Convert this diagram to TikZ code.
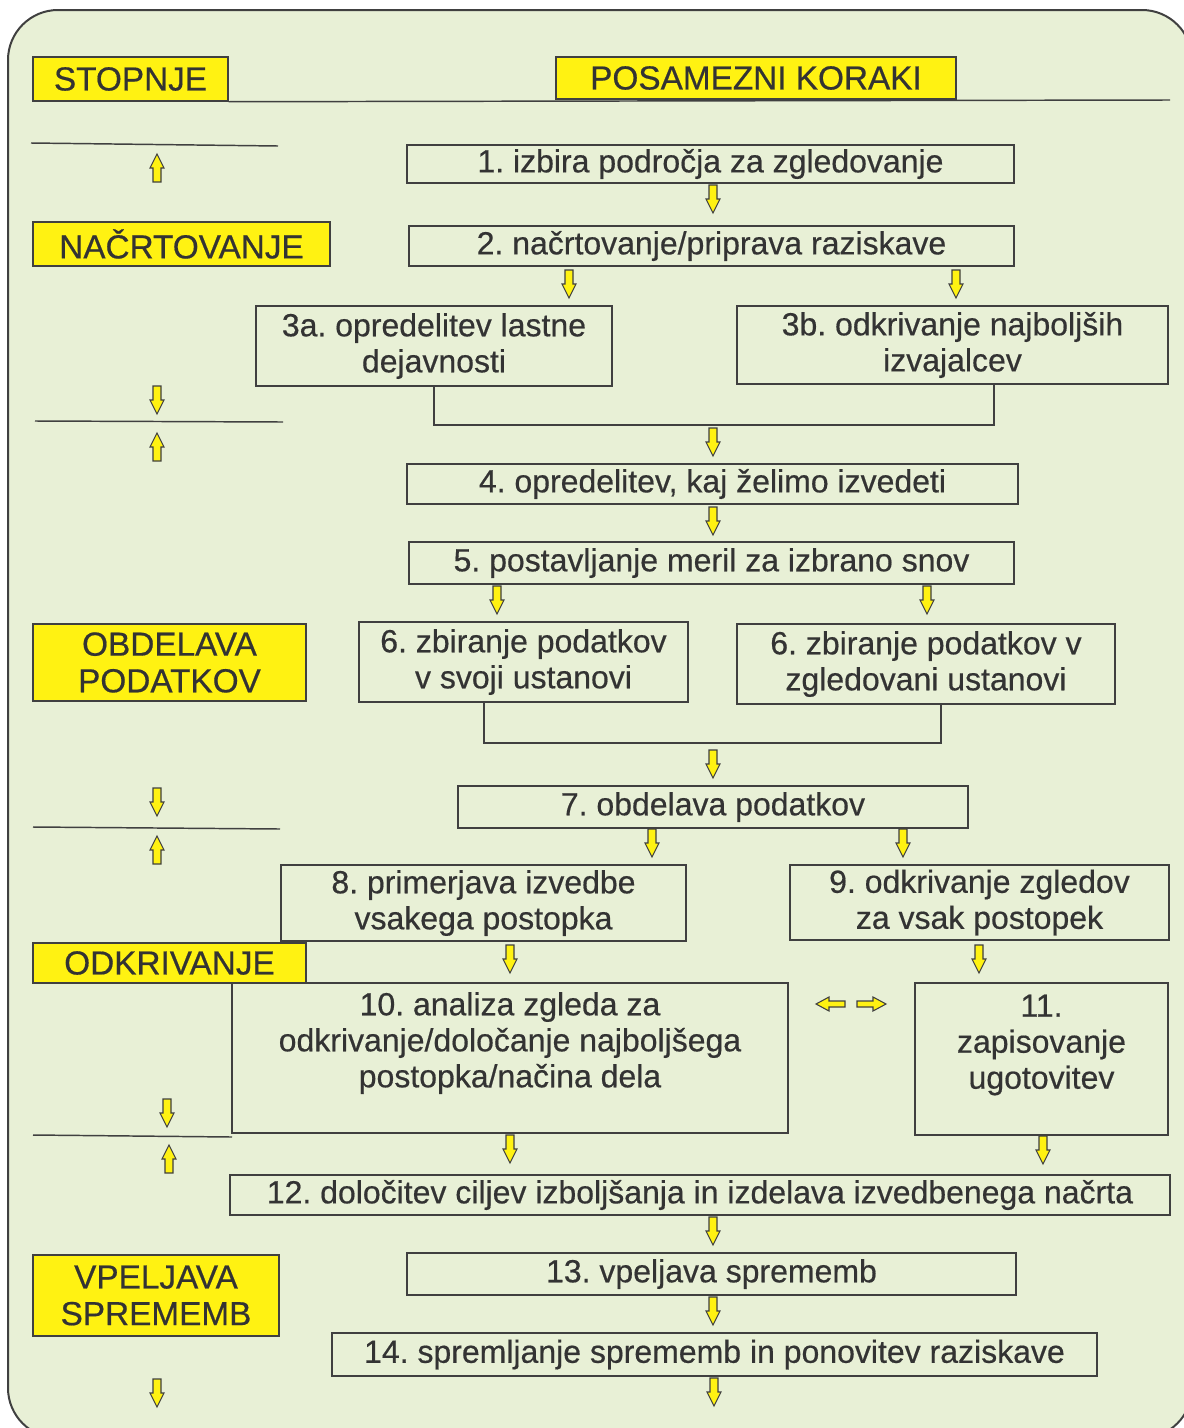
\documentclass[tikz,border=0pt]{standalone}
\usepackage{fontspec}
\setmainfont{Liberation Sans}[FakeBold=0.5]
\definecolor{bg}{HTML}{E8F0D6}
\definecolor{yel}{HTML}{FFF212}
\definecolor{ink}{HTML}{333333}
\definecolor{edge}{HTML}{404040}
\begin{document}
\frenchspacing
\begin{tikzpicture}[x=0.75pt,y=-0.75pt,
  corners/.style n args={4}{minimum width={(#3-#1)*0.75pt}, minimum height={(#4-#2)*0.75pt}, at={({(#1+#3)/2},{(#2+#4)/2})}},
  box/.style={draw=edge, line width=1.1pt, inner sep=0pt, align=center, text=ink, font=\fontsize{24}{27}\selectfont},
  stepbox/.style={box},
  txt/.style={inner sep=0pt, align=center, text=ink, font=\fontsize{24}{27}\selectfont},
  phase/.style={box, fill=yel, font=\fontsize{25}{27.5}\selectfont},
  conn/.style={draw=edge, line width=1.1pt},
  sep/.style={draw=edge, line width=1.1pt},
  barrow/.style={draw=edge, fill=yel, line width=0.8pt, line join=miter},
  arrdn/.pic={\path[barrow] (-4,0) -- (4,0) -- (4,14) -- (7,14) -- (0,28) -- (-7,14) -- (-4,14) -- cycle;},
  arrup/.pic={\path[barrow] (0,0) -- (7,14) -- (4,14) -- (4,28) -- (-4,28) -- (-4,14) -- (-7,14) -- cycle;},
  arrlf/.pic={\path[barrow] (0,0) -- (13,-7) -- (13,-3) -- (29,-3) -- (29,3) -- (13,3) -- (13,7) -- cycle;},
  arrrt/.pic={\path[barrow] (0,-3) -- (16,-3) -- (16,-7) -- (29,0) -- (16,7) -- (16,3) -- (0,3) -- cycle;}
]
\useasboundingbox (0,0) rectangle (1184,1428);
% frame
\path[draw=edge, line width=1.5pt, fill=bg, rounded corners=37.5pt] (8,10) rectangle (1192,1438);

% header
\node[phase, corners={33}{57}{228}{101}] (stopnje) {STOPNJE};
\coordinate (hdr) at (1170,100);
\draw[conn] (stopnje.south east) -- (hdr);
\node[phase, corners={556}{57}{956}{99}] (korak) {POSAMEZNI KORAKI};

% phase labels
\node[phase, corners={33}{222}{330}{266}] (p1) {NAČRTOVANJE};
\node[phase, corners={33}{624}{306}{701}] (p2) {OBDELAVA\\PODATKOV};
\node[phase, corners={33}{943}{306}{983}] (p3) {ODKRIVANJE};
\node[phase, corners={33}{1255}{279}{1336}] (p4) {VPELJAVA\\SPREMEMB};

% separators
\draw[sep] (31,143) -- (278,146);
\draw[sep] (35,421) -- (283,422);
\draw[sep] (33,827) -- (280,829);
\draw[sep] (33,1135) -- (232,1137);

% left phase arrows
\pic at (157,154) {arrup};
\pic at (157,386) {arrdn};
\pic at (157,433) {arrup};
\pic at (157,788) {arrdn};
\pic at (157,836) {arrup};
\pic at (167,1099) {arrdn};
\pic at (169,1145) {arrup};
\pic at (157,1379) {arrdn};

% steps
\node[stepbox, corners={407}{145}{1014}{183}] (s1) {1. izbira področja za zgledovanje};
\node[stepbox, corners={409}{226}{1014}{266}] (s2) {2. načrtovanje/priprava raziskave};
\node[stepbox, corners={256}{306}{612}{386}] (s3a) {3a. opredelitev lastne\\dejavnosti};
\node[stepbox, corners={737}{306}{1168}{384}] (s3b) {3b. odkrivanje najboljših\\izvajalcev};
\node[stepbox, corners={407}{464}{1018}{504}] (s4) {4. opredelitev, kaj želimo izvedeti};
\node[stepbox, corners={409}{542}{1014}{584}] (s5) {5. postavljanje meril za izbrano snov};
\node[stepbox, corners={359}{622}{688}{702}] (s6a) {6. zbiranje podatkov\\v svoji ustanovi};
\node[stepbox, corners={737}{624}{1115}{704}] (s6b) {6. zbiranje podatkov v\\zgledovani ustanovi};
\node[stepbox, corners={458}{786}{968}{828}] (s7) {7. obdelava podatkov};
\node[stepbox, corners={281}{865}{686}{941}] (s8) {8. primerjava izvedbe\\vsakega postopka};
\node[stepbox, corners={790}{865}{1169}{940}] (s9) {9. odkrivanje zgledov\\za vsak postopek};
\node[stepbox, corners={232}{983}{788}{1133}] (s10) {};
\node[txt] (t10) at ([yshift=11.25pt]s10.center) {10. analiza zgleda za\\odkrivanje/določanje najboljšega\\postopka/načina dela};
\node[stepbox, corners={915}{983}{1168}{1135}] (s11) {};
\node[txt] (t11) at ([yshift=10.5pt]s11.center) {11.\\zapisovanje\\ugotovitev};
\node[stepbox, corners={230}{1175}{1170}{1215}] (s12) {12. določitev ciljev izboljšanja in izdelava izvedbenega načrta};
\node[stepbox, corners={407}{1253}{1016}{1295}] (s13) {13. vpeljava sprememb};
\node[stepbox, corners={332}{1333}{1097}{1376}] (s14) {14. spremljanje sprememb in ponovitev raziskave};

% merge lines
\coordinate (j3) at (994,425);
\draw[conn] (s3a.south) |- (j3) -- (j3 |- s3b.south);
\coordinate (j6a) at (484,743);
\coordinate (j6b) at (941,743);
\draw[conn] (j6a |- s6a.south) -- (j6a) -- (j6b) -- (j6b |- s6b.south);

% step arrows
\pic at (713,185) {arrdn};
\pic at (569,270) {arrdn};
\pic at (956,270) {arrdn};
\pic at (713,428) {arrdn};
\pic at (713,507) {arrdn};
\pic at (497,586) {arrdn};
\pic at (927,586) {arrdn};
\pic at (713,750) {arrdn};
\pic at (652,829) {arrdn};
\pic at (903,829) {arrdn};
\pic at (510,945) {arrdn};
\pic at (979,945) {arrdn};
\pic at (816,1004) {arrlf};
\pic at (857,1004) {arrrt};
\pic at (510,1135) {arrdn};
\pic at (1043,1136) {arrdn};
\pic at (713,1217) {arrdn};
\pic at (713,1297) {arrdn};
\pic at (714,1378) {arrdn};
\end{tikzpicture}
\end{document}
